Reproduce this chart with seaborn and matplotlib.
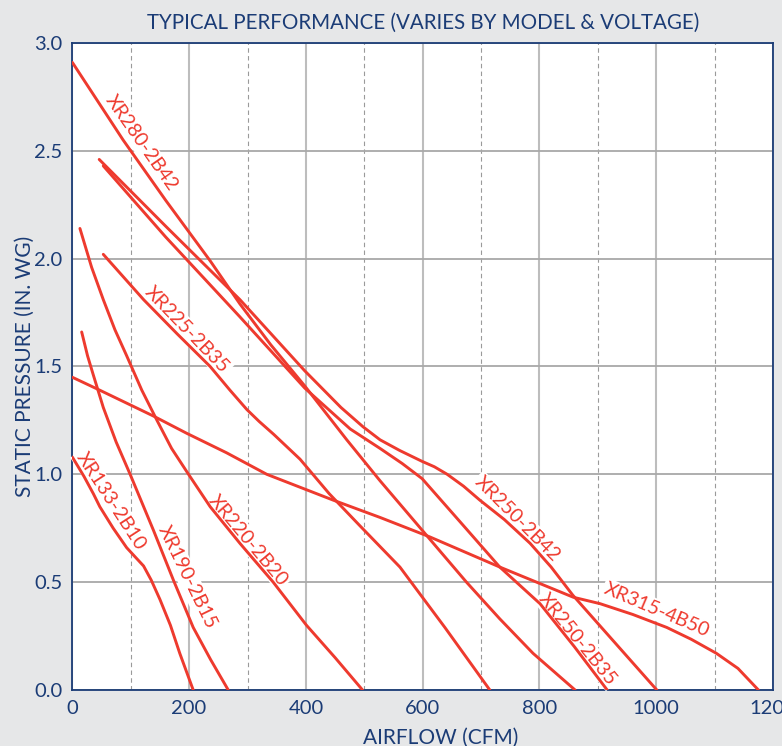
import numpy as np
import pandas as pd
import matplotlib
matplotlib.use("Agg")
import matplotlib.pyplot as plt
import seaborn as sns

# ---------- data (CFM, in. WG) ----------
xr133_cfm = [0, 20, 36, 47, 70, 93, 110, 122, 135, 150, 168, 184, 207]
xr133_sp = [1.08, 0.99, 0.91, 0.85, 0.75, 0.66, 0.61, 0.575, 0.51, 0.42, 0.30, 0.17, 0.0]

xr190_cfm = [16, 26, 36, 53, 75, 99, 139, 173, 207, 237, 267]
xr190_sp = [1.66, 1.55, 1.46, 1.31, 1.15, 1.00, 0.74, 0.51, 0.29, 0.14, 0.0]

xr220_cfm = [13, 33, 53, 73, 93, 119, 145, 170, 199, 236, 287, 344, 401, 450, 497]
xr220_sp = [2.14, 1.96, 1.81, 1.67, 1.55, 1.39, 1.25, 1.12, 1.00, 0.85, 0.68, 0.50, 0.30, 0.15, 0.0]

xr225_cfm = [53, 122, 180, 236, 270, 299, 320, 345, 390, 440, 493, 561, 638, 715]
xr225_sp = [2.02, 1.81, 1.65, 1.50, 1.39, 1.30, 1.245, 1.185, 1.07, 0.91, 0.76, 0.57, 0.29, 0.0]

xr280_cfm = [0, 87, 160, 236, 287, 340, 398, 470, 527, 612, 675, 732, 789, 861]
xr280_sp = [2.91, 2.55, 2.27, 1.99, 1.79, 1.60, 1.41, 1.16, 0.97, 0.70, 0.50, 0.33, 0.17, 0.0]

xr250_42_cfm = [46, 160, 287, 398, 460, 498, 527, 561, 599, 620, 642, 670, 698, 740,
                784, 820, 857, 929, 1001]
xr250_42_sp = [2.46, 2.15, 1.81, 1.48, 1.31, 1.22, 1.16, 1.11, 1.06, 1.035, 1.00, 0.945,
               0.88, 0.79, 0.68, 0.57, 0.44, 0.22, 0.0]

xr250_35_cfm = [53, 160, 287, 398, 476, 527, 565, 599, 664, 732, 801, 860, 916]
xr250_35_sp = [2.43, 2.10, 1.73, 1.40, 1.21, 1.12, 1.05, 0.98, 0.78, 0.57, 0.40, 0.20, 0.0]

xr315_cfm = [0, 47, 139, 196, 264, 333, 447, 527, 612, 732, 858, 904, 960, 1018, 1060,
             1103, 1140, 1175]
xr315_sp = [1.45, 1.39, 1.27, 1.19, 1.10, 1.00, 0.88, 0.80, 0.71, 0.57, 0.43, 0.40, 0.35,
            0.29, 0.235, 0.17, 0.10, 0.0]

models = ["XR133-2B10", "XR190-2B15", "XR220-2B20", "XR225-2B35",
          "XR280-2B42", "XR250-2B42", "XR250-2B35", "XR315-4B50"]
curves = [(xr133_cfm, xr133_sp), (xr190_cfm, xr190_sp), (xr220_cfm, xr220_sp),
          (xr225_cfm, xr225_sp), (xr280_cfm, xr280_sp), (xr250_42_cfm, xr250_42_sp),
          (xr250_35_cfm, xr250_35_sp), (xr315_cfm, xr315_sp)]

# curve label placement (data coords) and angle
label_x = [66, 197, 301, 196, 118, 762, 865, 1001]
label_y = [0.877, 0.522, 0.695, 1.669, 2.536, 0.793, 0.236, 0.371]
label_rot = [-57, -64, -50, -46, -55, -45, -51, -23]

rows = []
for name, (xs, ys) in zip(models, curves):
    for i, (x, y) in enumerate(zip(xs, ys)):
        rows.append({"model": name, "order": i, "cfm": x, "sp": y})
df = pd.DataFrame(rows)

# ---------- style ----------
BLUE = "#1b3c76"
RED = "#ee3a2e"
BG = "#e6e7e8"

sns.set_style("white")
plt.rcParams["font.family"] = ["Lato", "DejaVu Sans"]

fig = plt.figure(figsize=(7.82, 7.46), dpi=100, facecolor=BG)
ax = fig.add_axes([0.0925, 0.0751, 0.896, 0.8673])
ax.set_facecolor("white")

sns.lineplot(data=df, x="cfm", y="sp", units="model", estimator=None, sort=False,
             color=RED, linewidth=2.1, ax=ax, zorder=5)

ax.set_xlim(0, 1200)
ax.set_ylim(0, 3.0)
ax.set_xticks(np.arange(0, 1201, 200))
ax.set_xticks(np.arange(100, 1200, 200), minor=True)
ax.set_yticks(np.arange(0, 3.01, 0.5))
ax.set_yticklabels([f"{v:.1f}" for v in np.arange(0, 3.01, 0.5)])

ax.grid(False)
ax.xaxis.grid(True, which="major", color="#bdbdbd", linewidth=1.5, zorder=1)
ax.xaxis.grid(True, which="minor", color="#9a9a9a", linewidth=0.8,
              linestyle=(0, (4, 3)), zorder=1)
ax.yaxis.grid(True, which="major", color="#a8a8a8", linewidth=1.3, zorder=1)
ax.set_axisbelow(True)

ax.tick_params(axis="both", which="both", length=0, labelsize=14.5,
               labelcolor=BLUE, pad=7)
for s in ax.spines.values():
    s.set_color(BLUE)
    s.set_linewidth(1.3)

ax.set_xlabel("AIRFLOW (CFM)", fontsize=15, color=BLUE)
ax.xaxis.set_label_coords(0.526, -0.058)
ax.set_ylabel("STATIC PRESSURE (IN. WG)", fontsize=15, color=BLUE)
ax.yaxis.set_label_coords(-0.054, 0.5)
ax.set_title("TYPICAL PERFORMANCE (VARIES BY MODEL & VOLTAGE)", fontsize=14.8,
             color=BLUE, pad=10)

for name, x, y, r in zip(models, label_x, label_y, label_rot):
    ax.text(x, y, name, rotation=r, ha="center", va="center", fontsize=14,
            color=RED, zorder=3,
            bbox=dict(facecolor="white", edgecolor="none", pad=1.5))

fig.savefig("out.png", dpi=100, facecolor=fig.get_facecolor())
